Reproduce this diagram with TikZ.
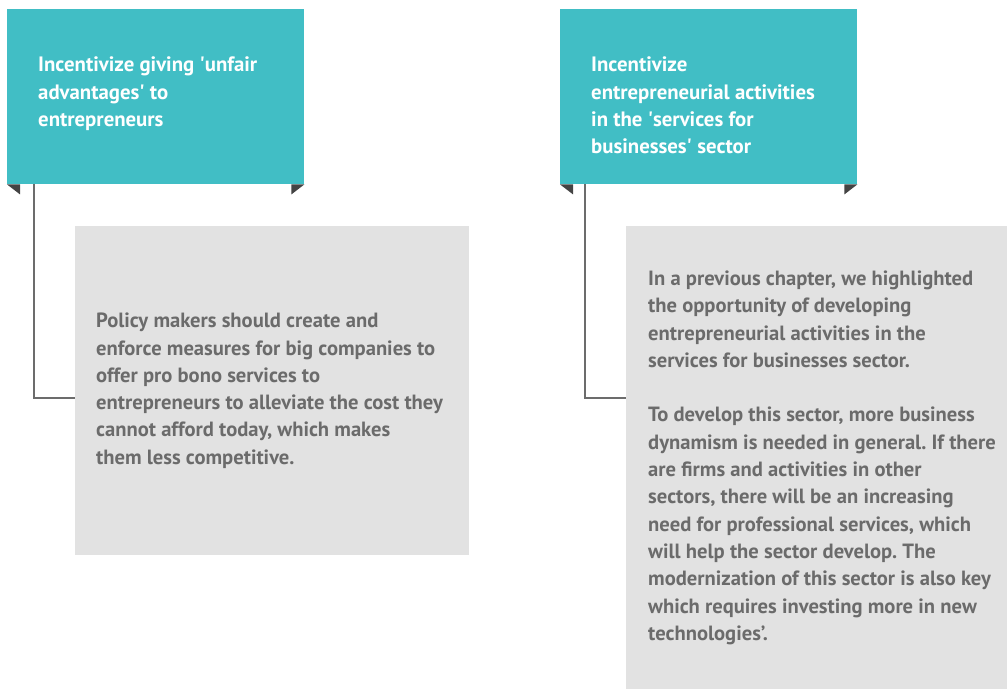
\documentclass[tikz,border=0pt]{standalone}
\usepackage{fontspec}
\setmainfont{PT Sans}
\definecolor{teal}{HTML}{41BEC5}
\definecolor{panel}{HTML}{E2E2E2}
\definecolor{ink}{HTML}{6B6B6B}
\definecolor{fold}{HTML}{444444}
\newcommand{\q}{\textquotesingle}
\tikzset{
  head/.style={fill=teal, inner sep=0pt, anchor=north west},
  headtext/.style={anchor=north west, inner sep=0pt, text=white, align=left,
    font=\frenchspacing\bfseries\fontsize{20.8}{27.3}\selectfont},
  body/.style={fill=panel, inner sep=0pt, anchor=north west},
  bodytext/.style={anchor=west, inner sep=0pt, align=left,
    text=ink, font=\frenchspacing\bfseries\fontsize{20.6}{27.3}\selectfont},
  link/.style={draw=gray!85!black, line width=1.3pt}
}
\begin{document}
\begin{tikzpicture}[x=1pt, y=-1pt]
\useasboundingbox (0,0) rectangle (1007,689);

% Bloque izquierdo
\node[head, minimum width=297pt, minimum height=175pt] (lhead) at (7,9) {};
\node[headtext] (ltitle) at (38,57) {Incentivize giving \q unfair\\advantages\q{} to\\entrepreneurs};
\fill[fold] (lhead.south west) -- ++(13,0) -- ++(0,10) -- cycle;
\fill[fold] (lhead.south east) -- ++(-13,0) -- ++(0,10) -- cycle;

\node[body, minimum width=394pt, minimum height=329pt] (lbody) at (75,226) {};
\node[bodytext] (ltext) at ([xshift=21pt]lbody.west)
  {Policy makers should create and\\enforce measures for big companies to\\offer pro bono services to\\entrepreneurs to alleviate the cost they\\cannot afford today, which makes\\them less competitive.};

\coordinate (lbend) at (34,398);
\draw[link] (lhead.south west -| lbend) -- (lbend) -- (lbody.west |- lbend);

% Bloque derecho
\node[head, minimum width=297pt, minimum height=175pt] (rhead) at (560,9) {};
\node[headtext] (rtitle) at (591,57) {Incentivize\\entrepreneurial activities\\in the \q services for\\businesses\q{} sector};
\fill[fold] (rhead.south west) -- ++(13,0) -- ++(0,10) -- cycle;
\fill[fold] (rhead.south east) -- ++(-13,0) -- ++(0,10) -- cycle;

\node[body, minimum width=381pt, minimum height=463pt] (rbody) at (626,226) {};
\node[bodytext] (rtext) at ([xshift=22pt]rbody.west)
  {In a previous chapter, we highlighted\\the opportunity of developing\\entrepreneurial activities in the\\services for businesses sector.\\[27.3pt]To develop this sector, more business\\dynamism is needed in general. If there\\are firms and activities in other\\sectors, there will be an increasing\\need for professional services, which\\will help the sector develop. The\\modernization of this sector is also key\\which requires investing more in new\\technologies’.};

\coordinate (rbend) at (585,398);
\draw[link] (rhead.south west -| rbend) -- (rbend) -- (rbody.west |- rbend);
\end{tikzpicture}
\end{document}
